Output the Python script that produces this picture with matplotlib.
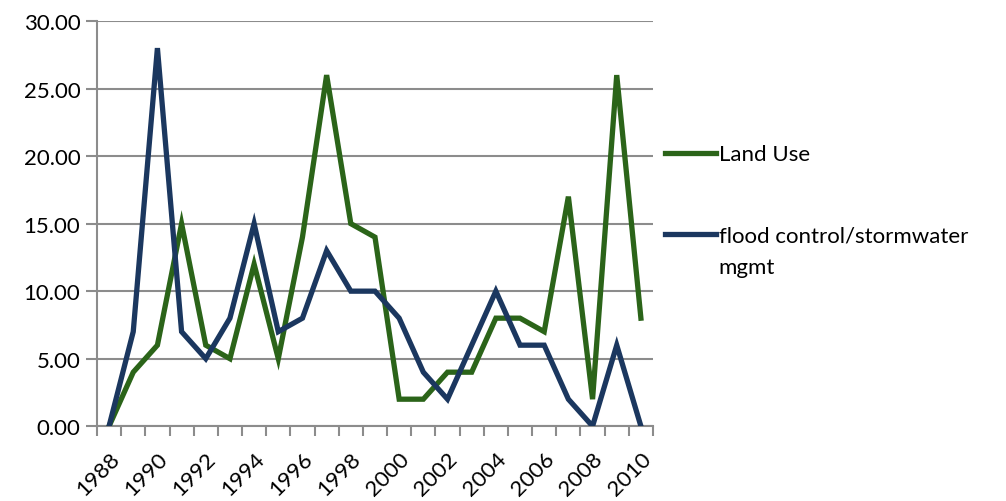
import numpy as np
import matplotlib
matplotlib.use("Agg")
import matplotlib.pyplot as plt

# yearly counts
years = list(range(1988, 2011))
land_use = [0, 4, 6, 15, 6, 5, 12, 5, 14, 26, 15, 14, 2, 2, 4, 4, 8, 8, 7, 17, 2, 26, 8]
flood_control = [0, 7, 28, 7, 5, 8, 15, 7, 8, 13, 10, 10, 8, 4, 2, 6, 10, 6, 6, 2, 0, 6, 0]
series_labels = ["Land Use", "flood control/stormwater"]
label_wrap = "mgmt"  # second line of the flood control label
y_ticks = [0, 5, 10, 15, 20, 25, 30]

GREEN = "#2b6419"
NAVY = "#1b375f"
GRID = "#8c8c8c"
FS = 16

plt.rcParams["font.family"] = ["Lato", "DejaVu Sans"]

fig = plt.figure(figsize=(10.06, 5.02), dpi=100)
ax = fig.add_axes([0.0964, 0.149, 0.5527, 0.807])

x = np.arange(len(years))
ax.plot(x, land_use, color=GREEN, lw=3.8, solid_joinstyle="miter", label=series_labels[0], zorder=3)
ax.plot(x, flood_control, color=NAVY, lw=3.8, solid_joinstyle="miter", label=series_labels[1], zorder=3)

ax.set_xlim(-0.5, len(years) - 0.5)
ax.set_ylim(0, 30)

# y axis
ax.set_yticks(y_ticks)
ax.set_yticklabels([f"{v:.2f}" for v in y_ticks], fontsize=FS)
ax.yaxis.grid(True, color=GRID, lw=1.5)
ax.set_axisbelow(True)
ax.tick_params(axis="y", length=8, width=1.5, color=GRID, pad=4)

# x axis: labels every other year, tick marks between categories
ax.set_xticks(x[::2])
ax.set_xticklabels([str(y) for y in years[::2]], rotation=45, ha="right",
                   rotation_mode="anchor", fontsize=FS)
ax.tick_params(axis="x", which="major", length=0, pad=16)
ax.set_xticks(np.arange(-0.5, len(years)), minor=True)
ax.tick_params(axis="x", which="minor", length=7, width=1.5, color=GRID)

for side in ("top", "right"):
    ax.spines[side].set_visible(False)
for side in ("left", "bottom"):
    ax.spines[side].set_color(GRID)
    ax.spines[side].set_linewidth(1.5)

leg = ax.legend(loc="upper left", bbox_to_anchor=(1.0, 0.726), frameon=False,
                fontsize=FS, handlelength=2.3, handletextpad=0.1,
                labelspacing=2.75, borderaxespad=0.15)
for h in leg.get_lines():
    h.set_linewidth(3.8)

# wrapped second line under the flood control entry
fig.canvas.draw()
bb = leg.get_texts()[1].get_window_extent()
W, H = fig.bbox.width, fig.bbox.height
fig.text(bb.x0 / W, (bb.y0 - 32) / H, label_wrap, fontsize=FS, va="bottom", ha="left")

fig.savefig("out.png", dpi=100)
